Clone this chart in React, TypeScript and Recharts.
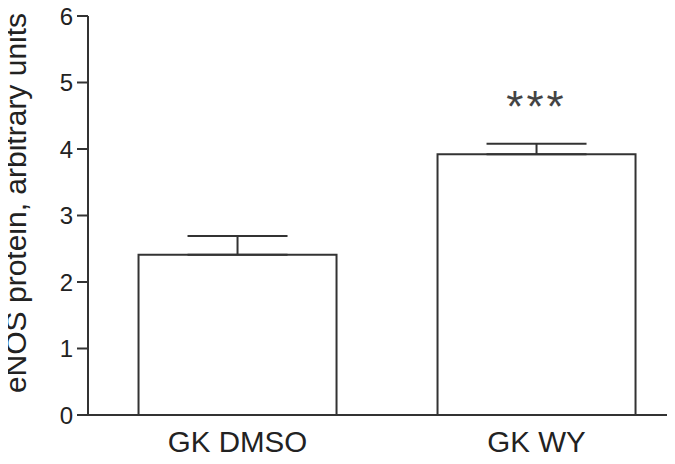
import React from 'react';
import { BarChart, Bar, XAxis, YAxis, ErrorBar, LabelList, Label } from 'recharts';

const groups = ['GK DMSO', 'GK WY'];
const means = [2.41, 3.92];
const semUpper = [0.28, 0.16];
const significance = ['', '***'];
const yTicks = [0, 1, 2, 3, 4, 5, 6];
const yTitle = 'eNOS protein, arbitrary units';

const data = groups.map((g, i) => ({
  group: g,
  mean: means[i],
  err: [0, semUpper[i]],
  sig: significance[i],
}));

const FONT = '"Liberation Sans", Arial, Helvetica, sans-serif';
const INK = '#333';

const renderStars = (props: any) => {
  const { x, y, width, value } = props;
  if (!value) return null;
  return (
    <text
      x={Number(x) + Number(width) / 2}
      y={Number(y) - 32}
      textAnchor="middle"
      fontSize={44}
      letterSpacing={3}
      fill="#444"
      fontFamily={FONT}
    >
      {value}
    </text>
  );
};

const renderYTitle = (props: any) => {
  const cx = 26;
  const cy = 203;
  return (
    <text
      x={cx}
      y={cy}
      transform={`rotate(-90, ${cx}, ${cy})`}
      textAnchor="middle"
      fontSize={30}
      fill="#222"
      fontFamily={FONT}
    >
      {yTitle}
    </text>
  );
};

export default function App() {
  return (
    <div
      style={{
        margin: '-8px 0 0 -8px',
        width: 675,
        height: 464,
        overflow: 'hidden',
        background: '#fff',
        fontFamily: FONT,
      }}
    >
      <BarChart
        width={690}
        height={464}
        data={data}
        margin={{ top: 16, right: 4, bottom: 0, left: 0 }}
        barCategoryGap="16.9%"
      >
        <XAxis
          dataKey="group"
          height={49}
          tickLine={false}
          tickMargin={10}
          axisLine={{ stroke: INK, strokeWidth: 2 }}
          tick={{ fontSize: 29.5, fill: '#222', fontFamily: FONT }}
        />
        <YAxis
          width={88}
          domain={[0, 6]}
          ticks={yTicks}
          interval={0}
          tickSize={11}
          tickMargin={4}
          axisLine={{ stroke: INK, strokeWidth: 2 }}
          tickLine={{ stroke: INK, strokeWidth: 2 }}
          tick={{ fontSize: 24, fill: '#222', fontFamily: FONT }}
        >
          <Label content={renderYTitle} />
        </YAxis>
        <Bar
          dataKey="mean"
          fill="#fff"
          stroke={INK}
          strokeWidth={2}
          isAnimationActive={false}
        >
          <ErrorBar dataKey="err" direction="y" width={50} stroke={INK} strokeWidth={2} />
          <LabelList dataKey="sig" content={renderStars} />
        </Bar>
      </BarChart>
    </div>
  );
}
